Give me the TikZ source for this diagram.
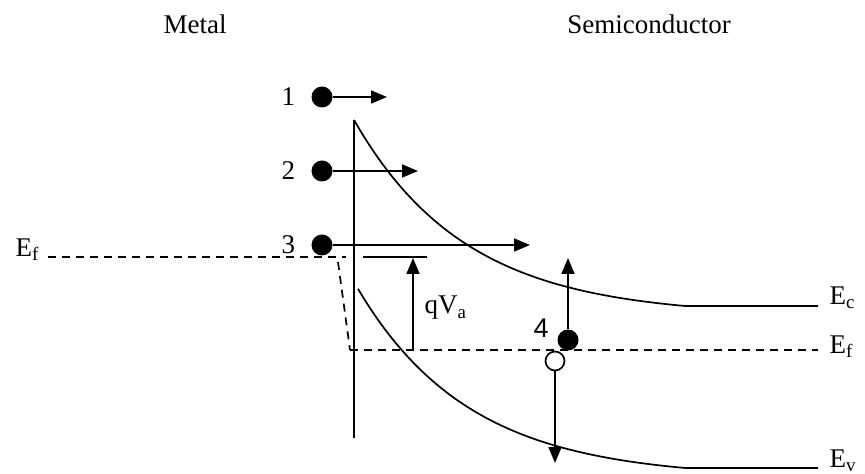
\documentclass[tikz,border=0pt]{standalone}
\usepackage{fontspec}
\setmainfont{Liberation Serif}
\newfontfamily\numsans{Liberation Sans}
\usetikzlibrary{arrows.meta, positioning}

\begin{document}
\begin{tikzpicture}[x=0.5pt, y=-0.5pt, font=\fontsize{13.5}{16}\selectfont, line width=0.85pt,
        electron/.style={circle, fill=black, inner sep=0pt, minimum size=10.5pt},
        hole/.style={circle, draw, fill=white, inner sep=0pt, minimum size=9.5pt},
        move/.style={-{Triangle[length=8pt, width=6.5pt]}},
        level/.style={dash pattern=on 4pt off 3pt}]
        \useasboundingbox (0,0) rectangle (865,474);

        \node (metal) at (195,24) {Metal};
        \node (semi) at (649,24) {Semiconductor};

        % interface
        \coordinate (itop) at (354,120);
        \coordinate (ibot) at (354,438);
        \draw (itop) -- (ibot);

        % band edges
        \coordinate (ecR) at (818,306);
        \coordinate (evR) at (818,468);
        \draw plot[domain=354:685, samples=60] (\x,{120+186*(1-exp(-(\x-354)/112))/0.948}) -- (ecR);
        \draw plot[domain=358:685, samples=60] (\x,{282+186*(1-exp(-(\x-354)/112))/0.948}) -- (evR);
        \node[anchor=west] (ec) at (822,298) {E\textsubscript{c}};
        \node[anchor=west] (ev) at (822,461) {E\textsubscript{v}};

        % Fermi levels
        \coordinate (efL) at (48,257);
        \coordinate (efM) at (346,257);
        \coordinate (slant) at (338,262);
        \coordinate (efS) at (350,350);
        \coordinate (efR) at (818,350);
        \draw[level] (efL) -- (efM);
        \draw[level] (slant) -- (efS);
        \draw[level] (efS) -- (efR);
        \node[anchor=west] (efmet) at (8,250) {E\textsubscript{f}};
        \node[anchor=west] (efsem) at (822,347) {E\textsubscript{f}};

        % applied bias
        \coordinate (qa) at (363,257);
        \coordinate (qb) at (427,257);
        \coordinate (vtop) at (413,258);
        \coordinate (vbot) at (413,350);
        \draw (qa) -- (qb);
        \draw[move] (vbot) -- (vtop);
        \node[anchor=west] (qv) at (417,308) {qV\textsubscript{a}};

        % carriers
        \node[electron] (e1) at (322,97) {};
        \node[electron] (e2) at (322,171) {};
        \node[electron] (e3) at (322,245) {};
        \node[left=4pt of e1] (n1) {1};
        \node[left=4pt of e2] (n2) {2};
        \node[left=4pt of e3] (n3) {3};
        \coordinate (t1) at (387,97);
        \coordinate (t2) at (418,171);
        \coordinate (t3) at (530,245);
        \draw[move] (e1) -- (t1);
        \draw[move] (e2) -- (t2);
        \draw[move] (e3) -- (t3);

        \node[electron] (e4) at (568,340) {};
        \node[hole] (h4) at (555,361) {};
        \node[font=\fontsize{13.5}{16}\numsans] (n4) at (541,328) {4};
        \coordinate (t4) at (568,258);
        \coordinate (th) at (555,463);
        \draw[move] (e4) -- (t4);
        \draw[move] (h4) -- (th);
    \end{tikzpicture}
\end{document}
